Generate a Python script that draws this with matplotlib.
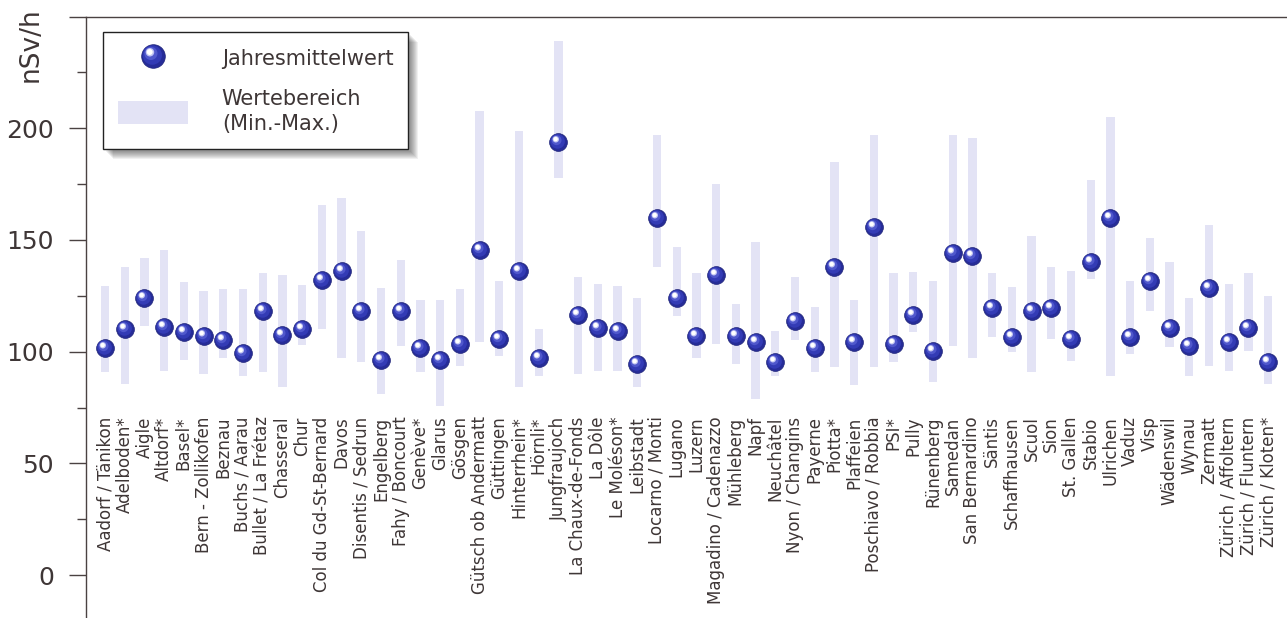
import matplotlib
matplotlib.use("Agg")
import matplotlib.pyplot as plt
import numpy as np
from matplotlib.path import Path
from matplotlib.lines import Line2D
from matplotlib.patches import Patch, Rectangle
from matplotlib.transforms import IdentityTransform

plt.rcParams['font.family'] = ['DejaVu Sans']

stations = [
    "Aadorf / Tänikon", "Adelboden*", "Aigle", "Altdorf*", "Basel*",
    "Bern - Zollikofen", "Beznau", "Buchs / Aarau", "Bullet / La Frétaz", "Chasseral",
    "Chur", "Col du Gd-St-Bernard", "Davos", "Disentis / Sedrun", "Engelberg",
    "Fahy / Boncourt", "Genève*", "Glarus", "Gösgen", "Gütsch ob Andermatt",
    "Güttingen", "Hinterrhein*", "Hörnli*", "Jungfraujoch", "La Chaux-de-Fonds",
    "La Dôle", "Le Moléson*", "Leibstadt", "Locarno / Monti", "Lugano",
    "Luzern", "Magadino / Cadenazzo", "Mühleberg", "Napf", "Neuchâtel",
    "Nyon / Changins", "Payerne", "Piotta*", "Plaffeien", "Poschiavo / Robbia",
    "PSI*", "Pully", "Rünenberg", "Samedan", "San Bernardino",
    "Säntis", "Schaffhausen", "Scuol", "Sion", "St. Gallen",
    "Stabio", "Ulrichen", "Vaduz", "Visp", "Wädenswil",
    "Wynau", "Zermatt", "Zürich / Affoltern", "Zürich / Fluntern", "Zürich / Kloten*",
]

# Jahresmittelwert (nSv/h)
mean_vals = [
    101.8, 110, 123.8, 111, 109, 107, 105, 99.5, 118, 107.6,
    110, 132, 136, 118.4, 96.4, 118.4, 101.8, 96.4, 103.6, 145.7,
    105.8, 136, 97, 194, 116.6, 110.8, 109.4, 94.6, 160, 123.8,
    107, 134.5, 107, 104.5, 95.5, 113.5, 101.8, 137.7, 104.5, 156,
    103.6, 116.6, 100.5, 144, 142.6, 119.7, 106.7, 118.4, 119.7, 105.8,
    140, 159.6, 106.7, 131.4, 110.8, 102.7, 128.7, 104.5, 110.8, 95.5,
]

# Wertebereich (Min.-Max.)
min_vals = [
    91, 85.6, 111.7, 91.5, 96.4, 90, 97, 89, 91, 84,
    103, 110, 97, 95.5, 81, 102.7, 91, 75.8, 93.7, 104.5,
    98, 84, 89, 177.6, 90, 91.5, 91.5, 84, 138, 116,
    97, 103.6, 94.6, 79, 89, 105, 91, 93, 85, 93,
    95.5, 109, 86.5, 102.7, 97, 106.7, 100, 91, 105.8, 96,
    132.7, 89, 99, 118, 102, 89, 93.7, 91.5, 100.5, 85.6,
]
max_vals = [
    129.6, 138, 142, 145.7, 131, 127, 128, 128, 135, 134.5,
    130, 165.5, 168.6, 153.8, 128.7, 140.8, 123, 123, 128, 207.6,
    131.8, 198.6, 110, 239, 133.6, 130.5, 129.6, 123.8, 197, 147,
    135, 175, 121.5, 149, 109.4, 133.6, 120, 185, 123, 197,
    135, 135.8, 131.8, 197, 195.5, 135, 129, 151.6, 138, 136,
    176.7, 205, 131.8, 150.7, 140, 123.8, 156.5, 130.5, 135, 124.7,
]

text_col = '#3e3636'
range_col = '#e3e3f5'

def spot(cx, cy, r):
    # circle inside a fixed [-1, 1] frame so the marker keeps its offset
    circ = Path.circle((cx, cy), r)
    verts = np.vstack([[[-1, -1], [1, 1]], circ.vertices])
    codes = np.concatenate([[Path.MOVETO, Path.MOVETO], circ.codes])
    return Path(verts, codes)

def sphere_styles(ms):
    return [
        dict(marker='o', markersize=ms, markerfacecolor='#262c98', markeredgecolor='#1e2378', markeredgewidth=0.5),
        dict(marker=spot(-0.1, 0.12, 0.82), markersize=ms, markerfacecolor='#333bb5', markeredgewidth=0),
        dict(marker=spot(-0.22, 0.26, 0.56), markersize=ms, markerfacecolor='#5058cc', markeredgewidth=0),
        dict(marker=spot(-0.3, 0.36, 0.36), markersize=ms, markerfacecolor='#c0c3f2', markeredgewidth=0),
        dict(marker=spot(-0.32, 0.38, 0.25), markersize=ms, markerfacecolor='white', markeredgewidth=0),
    ]

fig = plt.figure(figsize=(12.87, 6.18), dpi=100)
ax = fig.add_axes([86 / 1287, 0, 1 - 86 / 1287, 1 - 16.5 / 618])

x = np.arange(len(stations))
lo = np.array(min_vals)
hi = np.array(max_vals)

ax.bar(x, hi - lo, bottom=lo, width=0.42, color=range_col, zorder=1)
for st in sphere_styles(12.8):
    ax.plot(x, mean_vals, linestyle='none', zorder=3, **st)

for xi, name in zip(x, stations):
    ax.text(xi, 71, name, rotation=90, ha='center', va='top',
            fontsize=12, color=text_col)

ax.set_xlim(-0.964, 59.96)
ax.set_ylim(-19.2, 250)
ax.set_xticks([])
ax.set_yticks(np.arange(0, 251, 50))
ax.set_yticklabels(['0', '50', '100', '150', '200', ''])
ax.set_yticks(np.arange(25, 250, 50), minor=True)
ax.tick_params(axis='y', which='major', length=12.2, width=1, color='#4a4242',
               pad=11, labelsize=18, labelcolor=text_col)
ax.tick_params(axis='y', which='minor', length=6.5, width=1, color='#4a4242')
for side in ['right', 'bottom']:
    ax.spines[side].set_visible(False)
for side in ['left', 'top']:
    ax.spines[side].set_color('#4a4242')
    ax.spines[side].set_linewidth(1)

fig.text(31 / 1287, 1 - 45 / 618, 'nSv/h', rotation=90, ha='center', va='center',
         fontsize=19, color=text_col)

# legend
sphere_handle = tuple(Line2D([], [], linestyle='none', **st) for st in sphere_styles(17))
range_handle = Patch(facecolor=range_col, edgecolor='none')
leg = ax.legend([sphere_handle, range_handle], ['Jahresmittelwert', 'Wertebereich\n(Min.-Max.)'],
                loc='upper left', bbox_to_anchor=(103 / 1287, 1 - 32 / 618),
                bbox_transform=fig.transFigure, borderaxespad=0,
                fontsize=15, frameon=True, fancybox=False, framealpha=1,
                edgecolor='#222222', borderpad=0.7, handlelength=3.4,
                handleheight=1.35, handletextpad=1.6, labelspacing=0.9)
leg.get_frame().set_linewidth(1)
leg.set_zorder(10)
for t in leg.get_texts():
    t.set_color(text_col)
leg.get_texts()[1].set_linespacing(1.35)

# soft shadow behind the legend box
fig.canvas.draw()
bb = leg.get_window_extent()
for k in range(8):
    off = 3 + k
    ax.add_patch(Rectangle((bb.x0 + off, bb.y0 - off), bb.width, bb.height,
                           transform=IdentityTransform(), facecolor='black',
                           alpha=0.06, edgecolor='none', zorder=9, clip_on=False))

fig.savefig('out.png', dpi=100)
